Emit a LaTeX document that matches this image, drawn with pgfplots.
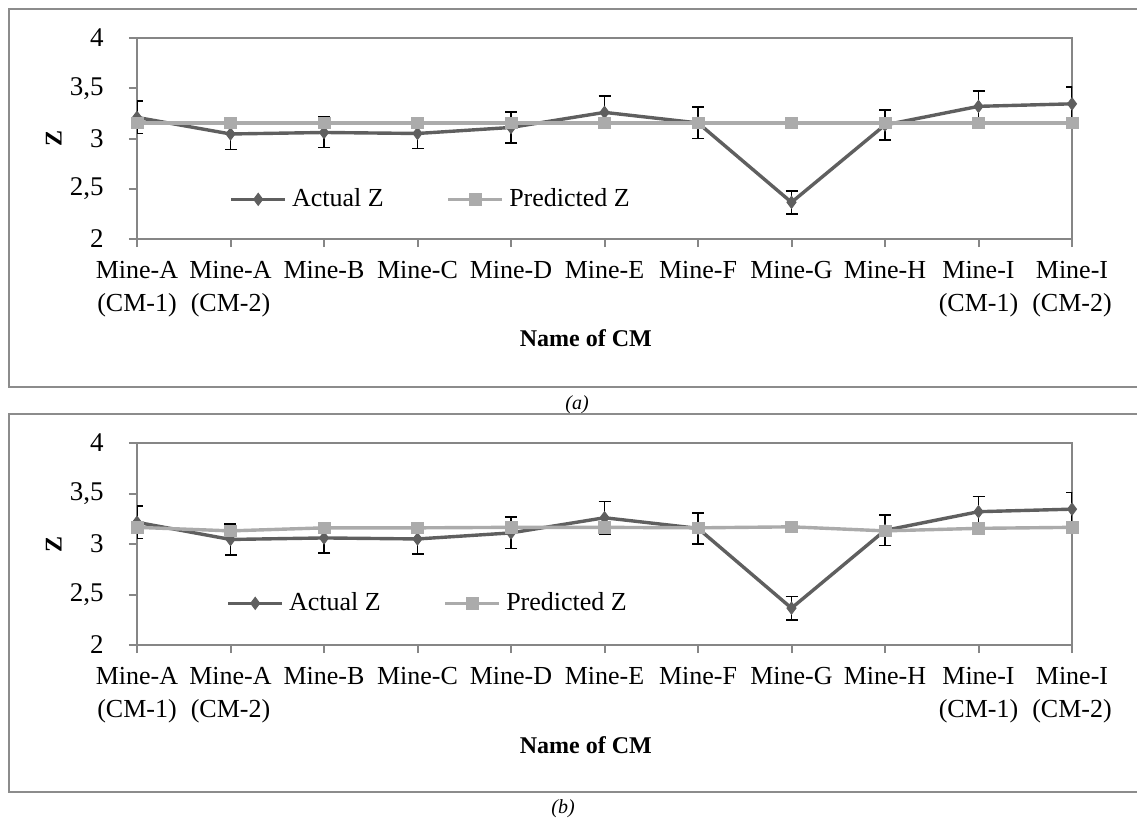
\documentclass[border=0pt]{standalone}
\usepackage{fontspec}
\setmainfont{Liberation Serif}
\usepackage{pgfplots}
\pgfplotsset{compat=1.18}
\definecolor{actc}{HTML}{5F5F5F}
\definecolor{predc}{HTML}{ABABAB}
\definecolor{axc}{HTML}{868686}
\definecolor{frc}{HTML}{8C8C8C}

\pgfplotsset{
  zstyle/.style={
    scale only axis, width=467.5pt,
    xmin=0, xmax=10, ymin=2, ymax=4,
    xtick={0,...,10},
    xticklabels={Mine-A\\(CM-1), Mine-A\\(CM-2), Mine-B, Mine-C, Mine-D, Mine-E, Mine-F, Mine-G, Mine-H, Mine-I\\(CM-1), Mine-I\\(CM-2)},
    ytick={2,2.5,3,3.5,4}, yticklabels={2,{2,5},3,{3,5},4},
    tick align=outside, major tick length=4pt,
    xtick pos=left, ytick pos=left,
    axis line style={axc, line width=1pt},
    every tick/.style={axc, line width=1pt},
    xticklabel style={font=\fontsize{13}{16.5}\selectfont, align=center, anchor=north, inner sep=0pt, yshift=-7pt},
    yticklabel style={font=\fontsize{13.5}{15}\selectfont, anchor=east, inner sep=0pt, xshift=-12.5pt},
    xlabel={Name of CM}, ylabel={Z},
    xlabel style={font=\bfseries\fontsize{12}{13}\selectfont, at={(rel axis cs:0.480,-0.537)}, anchor=base},
    ylabel style={font=\bfseries\fontsize{12}{13}\selectfont, at={(rel axis cs:-0.089,0.5)}, anchor=center},
    legend columns=2,
    legend style={draw=none, fill=none, inner sep=0pt, anchor=west,
      font=\fontsize{13}{15}\selectfont,
      nodes={inner sep=0pt},
      /tikz/every odd column/.append style={column sep=2.5pt},
      /tikz/every even column/.append style={column sep=31.5pt}},
    legend image code/.code={\draw[line width=1.8pt, mark repeat=2,mark phase=2] plot coordinates {(0pt,0pt) (13.5pt,0pt) (27pt,0pt)};},
  },
  actstyle/.style={actc, line width=1.7pt, mark=diamond*, mark size=3pt,
    mark options={fill=actc, draw=actc, line width=0.5pt},
    error bars/.cd, y dir=both, y explicit,
    error bar style={black, line width=0.9pt},
    error mark options={rotate=90, black, mark size=3pt, line width=0.9pt}},
  predstyle/.style={predc, line width=1.7pt, mark=square*, mark size=2.9pt,
    mark options={fill=predc, draw=predc, line width=0.3pt}},
}

\begin{document}
\begin{tikzpicture}
\useasboundingbox (0pt,0pt) rectangle (568.5pt,-409.5pt);
% frames
\draw[frc, line width=1pt] (568.5pt,-4.5pt) -- (4.5pt,-4.5pt) -- (4.5pt,-193.5pt) -- (568.5pt,-193.5pt);
\draw[frc, line width=1pt] (568.5pt,-207pt) -- (4.5pt,-207pt) -- (4.5pt,-396pt) -- (568.5pt,-396pt);
\node[font=\itshape\fontsize{10}{12}\selectfont] at (288.5pt,-202.5pt) {(a)};
\node[font=\itshape\fontsize{10}{12}\selectfont] at (281.5pt,-404.5pt) {(b)};

\begin{axis}[zstyle, height=100.5pt, at={(68.5pt,-119.5pt)}, anchor=south west,
  legend style={at={(rel axis cs:0.0984,0.1975)}}]
\addplot[actstyle] coordinates {
 (0,3.21) +- (0,0.16)
 (1,3.045) +- (0,0.155)
 (2,3.06) +- (0,0.15)
 (3,3.05) +- (0,0.15)
 (4,3.11) +- (0,0.155)
 (5,3.26) +- (0,0.16)
 (6,3.155) +- (0,0.155)
 (7,2.365) +- (0,0.115)
 (8,3.135) +- (0,0.15)
 (9,3.32) +- (0,0.15)
 (10,3.345) +- (0,0.165)
};
\addlegendentry{Actual Z}
\addplot[predstyle] coordinates {
 (0,3.155) (1,3.155) (2,3.155) (3,3.155) (4,3.155) (5,3.155)
 (6,3.155) (7,3.155) (8,3.155) (9,3.155) (10,3.155)
};
\addlegendentry{Predicted Z}
\end{axis}

\begin{axis}[zstyle, height=101pt, at={(68.5pt,-322.5pt)}, anchor=south west,
  legend style={at={(rel axis cs:0.0952,0.2064)}}]
\addplot[actstyle] coordinates {
 (0,3.215) +- (0,0.16)
 (1,3.045) +- (0,0.155)
 (2,3.06) +- (0,0.15)
 (3,3.05) +- (0,0.15)
 (4,3.11) +- (0,0.155)
 (5,3.26) +- (0,0.16)
 (6,3.155) +- (0,0.155)
 (7,2.365) +- (0,0.115)
 (8,3.135) +- (0,0.15)
 (9,3.32) +- (0,0.15)
 (10,3.345) +- (0,0.165)
};
\addlegendentry{Actual Z}
\addplot[predstyle] coordinates {
 (0,3.165) (1,3.13) (2,3.16) (3,3.16) (4,3.165) (5,3.165)
 (6,3.16) (7,3.17) (8,3.13) (9,3.155) (10,3.165)
};
\addlegendentry{Predicted Z}
\end{axis}
\end{tikzpicture}
\end{document}
